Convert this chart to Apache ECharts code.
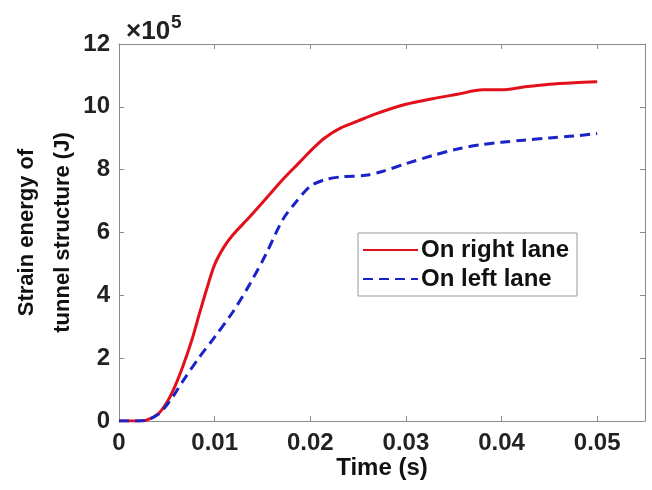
<!DOCTYPE html>
<html>
<head>
<meta charset="utf-8">
<script src="https://cdn.jsdelivr.net/npm/echarts@6/dist/echarts.min.js"></script>
<style>
html,body{margin:0;padding:0;background:#fff;}
#chart{width:652px;height:490px;}
</style>
</head>
<body>
<div id="chart"></div>
<script>
// Time (s)
var rightTime = [0, 0.001, 0.002, 0.0028, 0.0041, 0.005, 0.0058, 0.0067, 0.0076, 0.0084, 0.0093, 0.010, 0.011, 0.0119, 0.0137, 0.0154, 0.0171, 0.0189, 0.020, 0.0215, 0.0232, 0.025, 0.0267, 0.030, 0.0328, 0.0354, 0.038, 0.040, 0.0423, 0.045, 0.0476, 0.050];
// Strain energy, x10^5 J (vehicle on right lane)
var rightValues = [0, 0, 0, 0.02, 0.23, 0.59, 1.07, 1.76, 2.56, 3.41, 4.33, 4.98, 5.55, 5.92, 6.51, 7.09, 7.68, 8.24, 8.59, 9.01, 9.33, 9.55, 9.76, 10.08, 10.26, 10.40, 10.54, 10.54, 10.63, 10.72, 10.77, 10.80];

var leftTime = [0, 0.001, 0.002, 0.0028, 0.0041, 0.005, 0.0058, 0.0067, 0.0084, 0.010, 0.0119, 0.0137, 0.0154, 0.0171, 0.0184, 0.020, 0.0215, 0.0232, 0.0258, 0.0276, 0.030, 0.0328, 0.0354, 0.038, 0.040, 0.0423, 0.045, 0.0476, 0.050];
// Strain energy, x10^5 J (vehicle on left lane)
var leftValues = [0, 0, 0, 0.02, 0.21, 0.51, 0.85, 1.28, 2.03, 2.67, 3.47, 4.37, 5.33, 6.40, 6.93, 7.47, 7.68, 7.77, 7.82, 7.95, 8.19, 8.45, 8.66, 8.80, 8.87, 8.94, 9.01, 9.07, 9.15];

var seriesNames = ['On right lane', 'On left lane'];
var xTicks = {min: 0, max: 0.055, interval: 0.01};
var yTicks = {min: 0, max: 12, interval: 2};

function pairs(xs, ys) { return xs.map(function (x, i) { return [x, ys[i]]; }); }

var FONT = '"Liberation Sans", Arial, sans-serif';
var axisColor = '#8a8a8a';
var chart = echarts.init(document.getElementById('chart'), null, {renderer: 'canvas'});

var baseX = {
  type: 'value', min: xTicks.min, max: xTicks.max, interval: xTicks.interval,
  axisLine: {show: true, onZero: false, lineStyle: {color: axisColor, width: 1}},
  axisTick: {show: true, inside: true, length: 5, lineStyle: {color: axisColor}},
  splitLine: {show: false}
};
var baseY = {
  type: 'value', min: yTicks.min, max: yTicks.max, interval: yTicks.interval,
  axisLine: {show: true, onZero: false, lineStyle: {color: axisColor, width: 1}},
  axisTick: {show: true, inside: true, length: 5, lineStyle: {color: axisColor}},
  splitLine: {show: false}
};

chart.setOption({
  backgroundColor: '#fff',
  animation: false,
  title: {
    left: 121, top: 8,
    text: '{a|×10}{b|5}',
    textStyle: {
      rich: {
        a: {fontFamily: FONT, fontSize: 26, color: '#222', verticalAlign: 'bottom', lineHeight: 32},
        b: {fontFamily: FONT, fontSize: 19, color: '#222', verticalAlign: 'top', padding: [0, 0, 14, 1], lineHeight: 32}
      }
    }
  },
  grid: {left: 119, right: 7, top: 44, bottom: 69, containLabel: false, outerBoundsMode: 'none'},
  legend: {
    orient: 'vertical', left: 358, top: 233,
    data: seriesNames,
    backgroundColor: '#fff',
    borderColor: '#999', borderWidth: 1,
    padding: [5, 8, 5, 4],
    itemGap: 5, itemWidth: 55, itemHeight: 14,
    itemStyle: {opacity: 0},
    textStyle: {fontFamily: FONT, fontSize: 24, fontWeight: 'bold', color: '#111', padding: [0, 0, 0, -2]}
  },
  xAxis: [
    Object.assign({}, baseX, {
      position: 'bottom',
      name: 'Time (s)', nameLocation: 'middle', nameGap: 35, nameMoveOverlap: false,
      nameTextStyle: {fontFamily: FONT, fontSize: 24, fontWeight: 'bold', color: '#111'},
      axisLabel: {show: true, showMaxLabel: false, margin: 10, fontFamily: FONT, fontSize: 24, fontWeight: 'bold', color: '#222'}
    }),
    Object.assign({}, baseX, {position: 'top', axisLabel: {show: false}})
  ],
  yAxis: [
    Object.assign({}, baseY, {
      position: 'left',
      name: 'Strain energy of\ntunnel structure (J)', nameLocation: 'middle', nameGap: 38, nameRotate: 90, nameMoveOverlap: false,
      nameTextStyle: {fontFamily: FONT, fontSize: 22, fontWeight: 'bold', color: '#111', lineHeight: 36},
      axisLabel: {show: true, margin: 9, fontFamily: FONT, fontSize: 24, fontWeight: 'bold', color: '#222'}
    }),
    Object.assign({}, baseY, {position: 'right', axisLabel: {show: false}})
  ],
  series: [
    {
      name: seriesNames[0], type: 'line', xAxisIndex: 0, yAxisIndex: 0,
      data: pairs(rightTime, rightValues), showSymbol: false, symbol: 'none', smooth: 0.3,
      lineStyle: {color: '#e2101a', width: 3}, itemStyle: {color: '#e2101a'}, z: 3
    },
    {
      name: seriesNames[1], type: 'line', xAxisIndex: 0, yAxisIndex: 0,
      data: pairs(leftTime, leftValues), showSymbol: false, symbol: 'none', smooth: 0.3,
      lineStyle: {color: '#1a22c8', width: 3, type: [10, 6]}, itemStyle: {color: '#1a22c8'}, z: 4
    }
  ]
});
</script>
</body>
</html>
